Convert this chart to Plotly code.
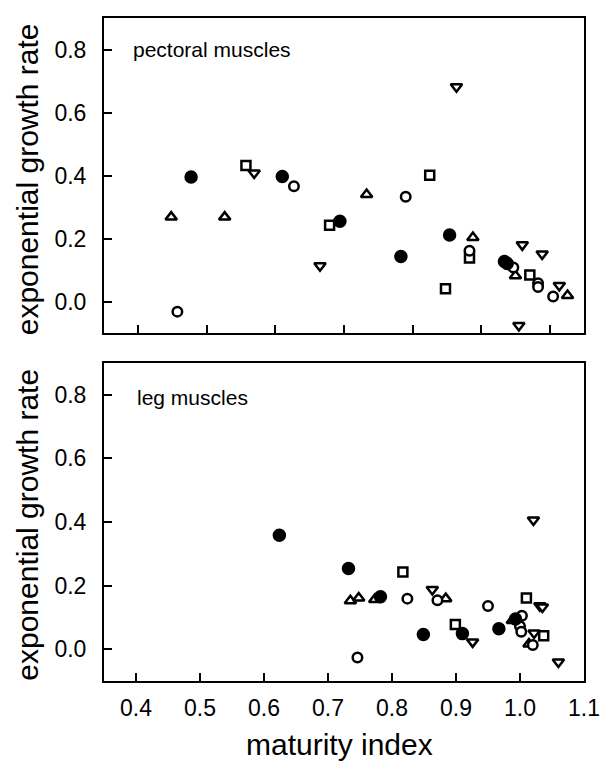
import plotly.graph_objects as go

# ---------------- data: pectoral muscles (top panel) ----------------
pec_filled_circle_x = [0.477, 0.610, 0.694, 0.783, 0.854, 0.938, 0.934]
pec_filled_circle_y = [0.395, 0.397, 0.255, 0.143, 0.211, 0.121, 0.127]
pec_open_circle_x = [0.457, 0.627, 0.790, 0.883, 0.947, 0.983, 0.983, 1.005]
pec_open_circle_y = [-0.032, 0.366, 0.333, 0.161, 0.108, 0.058, 0.046, 0.016]
pec_square_x = [0.557, 0.679, 0.825, 0.848, 0.883, 0.971]
pec_square_y = [0.432, 0.242, 0.401, 0.041, 0.138, 0.084]
pec_tri_up_x = [0.448, 0.526, 0.733, 0.888, 0.950, 1.026]
pec_tri_up_y = [0.268, 0.268, 0.340, 0.203, 0.082, 0.019]
pec_tri_down_x = [0.569, 0.665, 0.864, 0.960, 0.989, 1.014, 0.955]
pec_tri_down_y = [0.408, 0.114, 0.682, 0.180, 0.151, 0.051, -0.076]

# ---------------- data: leg muscles (bottom panel) ----------------
leg_filled_circle_x = [0.624, 0.732, 0.782, 0.849, 0.910, 0.967, 0.993]
leg_filled_circle_y = [0.358, 0.254, 0.165, 0.046, 0.049, 0.064, 0.095]
leg_open_circle_x = [0.746, 0.824, 0.871, 0.950, 1.003, 1.000, 1.002, 1.020]
leg_open_circle_y = [-0.026, 0.159, 0.154, 0.136, 0.105, 0.072, 0.055, 0.013]
leg_square_x = [0.817, 0.899, 1.010, 1.037]
leg_square_y = [0.243, 0.078, 0.161, 0.042]
leg_tri_up_x = [0.735, 0.748, 0.773, 0.884, 0.988, 1.014]
leg_tri_up_y = [0.152, 0.161, 0.156, 0.159, 0.090, 0.016]
leg_tri_down_x = [0.863, 0.926, 1.021, 1.031, 1.035, 1.022, 1.060]
leg_tri_down_y = [0.188, 0.023, 0.406, 0.137, 0.133, 0.051, -0.040]

y_tick_vals = [0.0, 0.2, 0.4, 0.6, 0.8]
x_tick_vals = [0.4, 0.5, 0.6, 0.7, 0.8, 0.9, 1.0, 1.1]
top_x_tick_vals = [0.4, 0.5, 0.6, 0.7, 0.8, 0.9, 1.0]

FONT = "Liberation Sans, Arial, Helvetica, sans-serif"

fig = go.Figure()


def add_series(x, y, symbol, size, filled, xa, ya):
    fig.add_trace(go.Scatter(
        x=x, y=y, mode="markers", xaxis=xa, yaxis=ya, cliponaxis=False,
        showlegend=False,
        marker=dict(symbol=symbol, size=size,
                    color="black" if filled else "white",
                    line=dict(color="black", width=2.5)),
    ))


for xa, ya, fc, oc, sq, tu, td in [
    ("x", "y",
     (pec_filled_circle_x, pec_filled_circle_y),
     (pec_open_circle_x, pec_open_circle_y),
     (pec_square_x, pec_square_y),
     (pec_tri_up_x, pec_tri_up_y),
     (pec_tri_down_x, pec_tri_down_y)),
    ("x2", "y2",
     (leg_filled_circle_x, leg_filled_circle_y),
     (leg_open_circle_x, leg_open_circle_y),
     (leg_square_x, leg_square_y),
     (leg_tri_up_x, leg_tri_up_y),
     (leg_tri_down_x, leg_tri_down_y)),
]:
    add_series(*sq, "square", 9, False, xa, ya)
    add_series(*tu, "triangle-up", 10, False, xa, ya)
    add_series(*td, "triangle-down", 10, False, xa, ya)
    add_series(*oc, "circle", 9.5, False, xa, ya)
    add_series(*fc, "circle", 11, True, xa, ya)

axis_common = dict(
    showline=True, linecolor="black", linewidth=2, mirror=True,
    ticks="inside", ticklen=8, tickwidth=1.5, tickcolor="black",
    showgrid=False, zeroline=False,
    tickfont=dict(family=FONT, size=23, color="black"),
)

# the page body has an 8px margin, so the figure is sized 600x757
fig.update_layout(
    width=600, height=757,
    margin=dict(l=96, r=19, t=8, b=84),
    paper_bgcolor="white", plot_bgcolor="white",
    font=dict(family=FONT, color="black"),
    xaxis=dict(axis_common, domain=[0, 1], range=[0.35, 1.05],
               tickvals=top_x_tick_vals, showticklabels=False, anchor="y"),
    yaxis=dict(axis_common, domain=[0.5248, 1.0], range=[-0.1, 0.9],
               tickvals=y_tick_vals, tickformat=".1f", anchor="x",
               ticklabelstandoff=11),
    xaxis2=dict(axis_common, domain=[0, 1], range=[0.35, 1.1],
                tickvals=x_tick_vals, tickformat=".1f", anchor="y2",
                ticklabelstandoff=5),
    yaxis2=dict(axis_common, domain=[0.0, 0.4797], range=[-0.1, 0.9],
                tickvals=y_tick_vals, tickformat=".1f", anchor="x2",
                ticklabelstandoff=11),
)

annos = [
    dict(text="pectoral muscles", x=0.056, y=0.8, xref="paper", yref="y",
         xanchor="left", yanchor="middle", showarrow=False,
         font=dict(family=FONT, size=21)),
    dict(text="leg muscles", x=0.064, y=0.79, xref="paper", yref="y2",
         xanchor="left", yanchor="middle", showarrow=False,
         font=dict(family=FONT, size=21)),
    dict(text="exponential growth rate", x=-0.160, y=0.757, xref="paper",
         yref="paper", xanchor="center", yanchor="middle", textangle=-90,
         showarrow=False, font=dict(family=FONT, size=30)),
    dict(text="exponential growth rate", x=-0.160, y=0.236, xref="paper",
         yref="paper", xanchor="center", yanchor="middle", textangle=-90,
         showarrow=False, font=dict(family=FONT, size=30)),
    dict(text="maturity index", x=0.49, y=-0.096, xref="paper",
         yref="paper", xanchor="center", yanchor="middle",
         showarrow=False, font=dict(family=FONT, size=30)),
]
fig.update_layout(annotations=annos)

fig.write_html("out.html")
